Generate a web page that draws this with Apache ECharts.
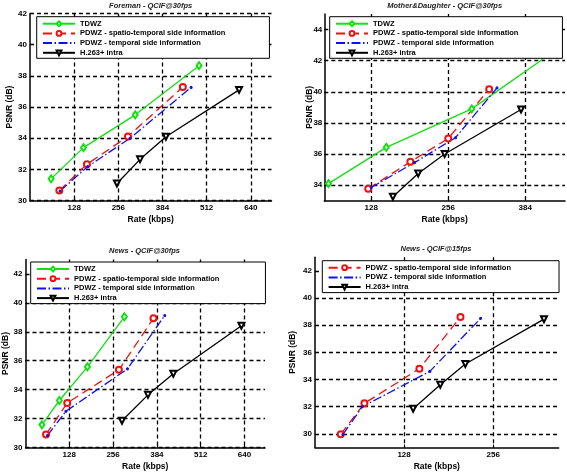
<!DOCTYPE html>
<html><head><meta charset="utf-8">
<script src="https://cdn.jsdelivr.net/npm/echarts@6/dist/echarts.min.js"></script>
<style>html,body{margin:0;padding:0;background:#fff}#c{width:567px;height:473px}</style>
</head><body><div id="c"></div>
<script>
const seriesNames = ['TDWZ', 'PDWZ - spatio-temporal side information', 'PDWZ - temporal side information', 'H.263+ intra'];
const panelTitles = ['Foreman - QCIF@30fps', 'Mother&Daughter - QCIF@30fps', 'News - QCIF@30fps', 'News - QCIF@15fps'];
const xLabel = 'Rate (kbps)';
const yLabel = 'PSNR (dB)';

// Foreman - QCIF@30fps
const foremanTDWZRate = [61, 155, 305, 490];
const foremanTDWZPsnr = [31.4, 33.4, 35.5, 38.65];
const foremanSTRate = [85, 165, 284, 443];
const foremanSTPsnr = [30.65, 32.33, 34.12, 37.28];
const foremanTRate = [87, 167, 290, 467];
const foremanTPsnr = [30.62, 32.18, 34.0, 37.26];
const foremanH263Rate = [252, 319, 394, 606];
const foremanH263Psnr = [31.1, 32.65, 34.1, 37.1];

// Mother&Daughter - QCIF@30fps
const mdTDWZRate = [57, 153, 295, 432];
const mdTDWZPsnr = [34.1, 36.43, 38.9, 42.6];
const mdSTRate = [123, 193, 256, 324];
const mdSTPsnr = [33.77, 35.5, 37.0, 40.17];
const mdTRate = [128, 200, 268, 337];
const mdTPsnr = [33.85, 35.45, 37.05, 40.25];
const mdH263Rate = [164, 206, 250, 377];
const mdH263Psnr = [33.25, 34.75, 36.0, 38.86];

// News - QCIF@30fps
const n30TDWZRate = [48, 99, 181, 289];
const n30TDWZPsnr = [31.57, 33.25, 35.58, 39.04];
const n30STRate = [60, 122, 273, 374];
const n30STPsnr = [30.9, 33.08, 35.37, 38.93];
const n30TRate = [64, 118, 298, 407];
const n30TPsnr = [30.83, 32.5, 35.44, 39.13];
const n30H263Rate = [282, 358, 432, 631];
const n30H263Psnr = [31.85, 33.64, 35.1, 38.42];

// News - QCIF@15fps
const n15STRate = [37, 71, 150, 209];
const n15STPsnr = [29.98, 32.25, 34.8, 38.6];
const n15TRate = [40, 68, 165, 238];
const n15TPsnr = [29.95, 32.0, 34.6, 38.5];
const n15H263Rate = [141, 180, 216, 329];
const n15H263Psnr = [31.85, 33.62, 35.14, 38.44];

// Axis limits and tick labels
const foremanXLim = [0, 700], foremanYLim = [30, 42];
const foremanXTicks = [128, 256, 384, 512, 640], foremanYTicks = [30, 32, 34, 36, 38, 40, 42];
const mdXLim = [50, 450], mdYLim = [33, 45];
const mdXTicks = [128, 256, 384], mdYTicks = [34, 36, 38, 40, 42, 44];
const n30XLim = [0, 700], n30YLim = [30, 43];
const n30XTicks = [128, 256, 384, 512, 640], n30YTicks = [30, 32, 34, 36, 38, 40, 42];
const n15XLim = [0, 350], n15YLim = [29, 43];
const n15XTicks = [128, 256], n15YTicks = [30, 32, 34, 36, 38, 40, 42];

function pairs(xs, ys) { return xs.map((x, i) => [x, ys[i]]); }

const FONT = '"Liberation Sans", Arial, sans-serif';
const GREEN = '#11e011', RED = '#f01010', BLUE = '#1010ee', BLACK = '#000000';

const styles = [
  { color: GREEN, symbol: 'emptyDiamond', symbolSize: [5, 7], type: 'solid' },
  { color: RED, symbol: 'emptyCircle', symbolSize: 6, type: [9, 5] },
  { color: BLUE, symbol: 'circle', symbolSize: 2, type: [9, 2.5, 1.5, 2.5] },
  { color: BLACK, symbol: 'emptyTriangle', symbolSize: 6, type: 'solid', rotate: 180 }
];

function mkSeries(si, panel, xs, ys) {
  const s = styles[si];
  return {
    type: 'line', name: seriesNames[si], xAxisIndex: panel, yAxisIndex: panel,
    data: pairs(xs, ys), symbol: s.symbol, symbolSize: s.symbolSize,
    symbolRotate: s.rotate || 0, showAllSymbol: true, z: 3,
    lineStyle: { color: s.color, width: 1.3, type: s.type },
    itemStyle: { color: s.color, borderColor: s.color, borderWidth: 1.1 },
    emphasis: { disabled: true }, clip: true
  };
}

const grids = [
  { left: 30, top: 13.4, width: 241.5, height: 187.3 },
  { left: 324.3, top: 14, width: 240.7, height: 186.7 },
  { left: 25, top: 259.5, width: 240, height: 188 },
  { left: 315, top: 257.2, width: 243.6, height: 190.3 }
];
const xNameGaps = [14, 14, 15, 14.5];
const yNameGaps = [16, 10, 15.5, 17.5];
const yLabelMargins = [3, 2, 3, 3];

function mkX(i, lim, ticks) {
  return {
    gridIndex: i, type: 'value', min: lim[0], max: lim[1],
    name: xLabel, nameLocation: 'middle', nameGap: xNameGaps[i], nameMoveOverlap: false,
    nameTextStyle: { fontFamily: FONT, fontSize: 8.5, fontWeight: 'bold', color: '#000' },
    axisLine: { show: true, onZero: false, lineStyle: { color: '#000', width: 1.5 } },
    axisTick: { show: true, inside: true, length: 3, customValues: ticks, lineStyle: { color: '#000', width: 1 } },
    axisLabel: { customValues: ticks, color: '#000', fontFamily: FONT, fontSize: 8, fontWeight: 'bold', margin: 3 },
    splitLine: { show: true, lineStyle: { color: '#000', width: 1.3, type: [4, 3] } }
  };
}
function mkY(i, lim, ticks) {
  return {
    gridIndex: i, type: 'value', min: lim[0], max: lim[1],
    name: yLabel, nameLocation: 'middle', nameGap: yNameGaps[i], nameMoveOverlap: false,
    nameTextStyle: { fontFamily: FONT, fontSize: 8.5, fontWeight: 'bold', color: '#000' },
    axisLine: { show: true, onZero: false, lineStyle: { color: '#000', width: 1.5 } },
    axisTick: { show: true, inside: true, length: 3, customValues: ticks, lineStyle: { color: '#000', width: 1 } },
    axisLabel: { customValues: ticks, color: '#000', fontFamily: FONT, fontSize: 8, fontWeight: 'bold', margin: yLabelMargins[i] },
    splitLine: { show: true, lineStyle: { color: '#000', width: 1.3, type: [4, 3] } }
  };
}

function mkLegend(left, top, names, rightPad) {
  return {
    left: left, top: top, orient: 'vertical', z: 10,
    data: names.map(n => n === seriesNames[2] ? { name: n, itemStyle: { opacity: 0 } } : n),
    itemWidth: 32, itemHeight: 6, itemGap: 1.7,
    padding: [3, rightPad, 1.5, 5.3],
    backgroundColor: '#fff', borderColor: '#000', borderWidth: 1,
    selectedMode: false,
    textStyle: { fontFamily: FONT, fontSize: 7.5, fontWeight: 'bold', color: '#000', lineHeight: 8 }
  };
}

const titlePos = [[150.7, 5.7], [444.7, 5.7], [144.5, 251.3], [436, 248.7]];

const option = {
  animation: false,
  backgroundColor: '#fff',
  grid: grids,
  xAxis: [mkX(0, foremanXLim, foremanXTicks), mkX(1, mdXLim, mdXTicks), mkX(2, n30XLim, n30XTicks), mkX(3, n15XLim, n15XTicks)],
  yAxis: [mkY(0, foremanYLim, foremanYTicks), mkY(1, mdYLim, mdYTicks), mkY(2, n30YLim, n30YTicks), mkY(3, n15YLim, n15YTicks)],
  legend: [
    mkLegend(36.7, 16.7, seriesNames, 44),
    mkLegend(329.7, 16.7, seriesNames, 44),
    mkLegend(30.7, 262, seriesNames, 46),
    mkLegend(322.3, 260.7, seriesNames.slice(1), 48)
  ],
  graphic: panelTitles.map((t, i) => ({
    type: 'text', x: titlePos[i][0], y: titlePos[i][1],
    style: { text: t, font: 'italic bold 7.5px ' + FONT, fill: '#222', align: 'center', verticalAlign: 'middle' }
  })),
  series: [
    mkSeries(0, 0, foremanTDWZRate, foremanTDWZPsnr),
    mkSeries(1, 0, foremanSTRate, foremanSTPsnr),
    mkSeries(2, 0, foremanTRate, foremanTPsnr),
    mkSeries(3, 0, foremanH263Rate, foremanH263Psnr),
    mkSeries(0, 1, mdTDWZRate, mdTDWZPsnr),
    mkSeries(1, 1, mdSTRate, mdSTPsnr),
    mkSeries(2, 1, mdTRate, mdTPsnr),
    mkSeries(3, 1, mdH263Rate, mdH263Psnr),
    mkSeries(0, 2, n30TDWZRate, n30TDWZPsnr),
    mkSeries(1, 2, n30STRate, n30STPsnr),
    mkSeries(2, 2, n30TRate, n30TPsnr),
    mkSeries(3, 2, n30H263Rate, n30H263Psnr),
    mkSeries(1, 3, n15STRate, n15STPsnr),
    mkSeries(2, 3, n15TRate, n15TPsnr),
    mkSeries(3, 3, n15H263Rate, n15H263Psnr)
  ]
};

const chart = echarts.init(document.getElementById('c'), null, { renderer: 'canvas' });
chart.setOption(option);
</script>
</body></html>
